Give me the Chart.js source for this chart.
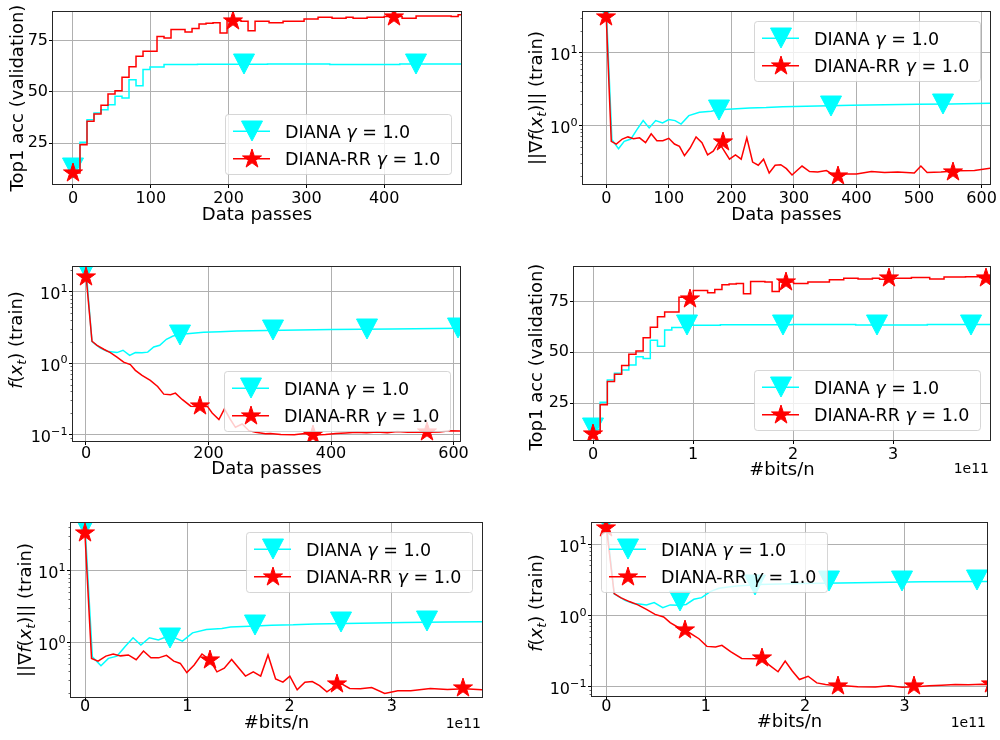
<!DOCTYPE html>
<html>
<head>
<meta charset="utf-8">
<script src="https://cdn.jsdelivr.net/npm/chart.js@4.4.1/dist/chart.umd.min.js"></script>
<style>
  html, body { margin: 0; padding: 0; background: #fff; }
  #wrap { position: relative; width: 1000px; height: 740px; overflow: hidden; background: #fff; }
  #wrap canvas { position: absolute; }
</style>
</head>
<body>
<div id="wrap"></div>
<script>
// ---- series (x in data passes) ----
const seriesNames = ['DIANA', 'DIANA-RR'];
const gammaValue = '1.0';

// top-1 validation accuracy, piecewise constant between evaluations
const accPassesDiana = [0, 9, 18, 27, 36, 45, 54, 63, 72, 81, 90, 99, 117, 160, 250, 330, 420, 500];
const accDiana = [12, 25.4, 36.4, 39.7, 41.3, 43.7, 47.8, 47, 55.9, 53, 60.9, 62.2, 63.3, 63.5, 63.6, 63.4, 63.6, 63.5];
const accPassesRR = [0, 9, 18, 27, 36, 45, 54, 63, 72, 81, 90, 108, 117, 126, 144, 153, 162, 171, 180, 189,
  198, 216, 225, 234, 252, 270, 297, 315, 333, 351, 360, 378, 400, 423, 441, 468, 486, 495, 500];
const accRR = [10.4, 24.2, 35.6, 39.2, 43.5, 49, 50.6, 57.1, 62.3, 67.4, 69.8, 77, 76.3, 80.4, 79.2, 80.9, 83.2, 83.5, 83.8, 78.8,
  84.8, 84.5, 79.9, 84.5, 83.8, 84.5, 85.6, 86.4, 86, 86.4, 85.9, 86.4, 86.8, 86, 87, 87.1, 86.8, 87.7, 87.7];

// gradient norm on the training set
const gradPassesDiana = [0, 9, 19.6, 28.7, 39.3, 49, 59, 68.6, 79, 90, 100, 110, 119.6, 132, 149, 168, 178.6, 202, 229, 255.6,
  282, 338, 392, 445, 498, 551, 614];
const gradDiana = [42, 0.63, 0.474, 0.60, 0.645, 0.87, 1.16, 0.92, 1.16, 1.08, 1.2, 1.16, 1.04, 1.36, 1.51, 1.56, 1.64, 1.68, 1.74, 1.76,
  1.81, 1.85, 1.89, 1.93, 1.95, 1.97, 2.01];
const gradPassesRR = [0, 8, 16, 25.6, 34.6, 43.6, 53.2, 62.8, 71.8, 80.9, 90.4, 100, 109, 117, 125, 134, 143.6, 153, 162, 171,
  180, 197, 206.6, 215.7, 224.7, 234, 243, 251.5, 260.5, 270, 279, 288, 297, 313, 325, 338, 352, 368, 384, 400,
  424, 445, 466, 492.5, 503, 513, 535, 562, 588.6, 614];
const gradRR = [31, 0.60, 0.55, 0.645, 0.69, 0.65, 0.67, 0.575, 0.76, 0.61, 0.61, 0.66, 0.55, 0.51, 0.38, 0.485, 0.69, 0.575, 0.39, 0.437,
  0.58, 0.34, 0.39, 0.34, 0.67, 0.31, 0.28, 0.34, 0.219, 0.28, 0.285, 0.251, 0.205, 0.273, 0.229, 0.226, 0.236, 0.195, 0.212, 0.212,
  0.229, 0.222, 0.226, 0.218, 0.273, 0.222, 0.226, 0.234, 0.236, 0.254];

// training loss
const lossPassesDiana = [0, 9.8, 23.5, 34.3, 44, 50.6, 60.4, 71.3, 80.6, 91.5, 100.8, 110.6, 120.4, 131.3, 142.2, 154, 165, 192, 219, 246.5,
  295.5, 400, 500, 614];
const lossDiana = [21, 2.0, 1.62, 1.46, 1.43, 1.40, 1.51, 1.28, 1.40, 1.39, 1.42, 1.68, 1.77, 2.15, 2.39, 2.5, 2.58, 2.7, 2.75, 2.8,
  2.85, 2.95, 3.0, 3.08];
const lossPassesRR = [0, 9.8, 18, 29, 39.8, 50.6, 61.5, 72.4, 80.6, 91.5, 105, 117, 127, 138, 146, 157, 171, 186, 198, 206,
  217, 226, 235, 244, 255, 266, 277, 293, 301, 318, 340, 357, 374, 391, 408, 424, 441, 458, 475, 492,
  508, 525, 542, 560, 577, 594, 614];
const lossRR = [17, 2.02, 1.77, 1.56, 1.40, 1.21, 1.03, 0.95, 0.79, 0.67, 0.57, 0.47, 0.367, 0.36, 0.379, 0.309, 0.249, 0.247, 0.249, 0.2,
  0.162, 0.228, 0.166, 0.126, 0.14, 0.113, 0.107, 0.102, 0.103, 0.1, 0.099, 0.103, 0.098, 0.1, 0.103, 0.105, 0.107, 0.106, 0.108, 0.106,
  0.11, 0.107, 0.108, 0.107, 0.108, 0.113, 0.112];

// communicated bits per node for one data pass
const BITS_PER_PASS = 7.96e8;

// marker positions [x, y] (every k-th iterate)
const accPassMarksDiana = [[0, 12.6], [220, 63.5], [441, 63.5]];
const accPassMarksRR = [[0, 10.4], [206, 84.4], [412, 86.6]];
const gradPassMarksDiana = [[0, 42], [180, 1.62], [360, 1.87], [539, 1.95]];
const gradPassMarksRR = [[0, 31], [186, 0.58], [370, 0.2], [554, 0.229]];
const lossPassMarksDiana = [[0, 21], [154, 2.45], [306, 2.88], [458, 3.0], [608, 3.05]];
const lossPassMarksRR = [[0, 16.1], [186, 0.247], [371, 0.098], [556, 0.108]];
const accBitMarksDiana = [[0, 12.7], [0.94e11, 63.5], [1.90e11, 63.5], [2.84e11, 63.5], [3.78e11, 63.5]];
const accBitMarksRR = [[0, 10], [0.967e11, 76.2], [1.934e11, 84.4], [2.957e11, 86.5], [3.93e11, 86.5]];
const gradBitMarksDiana = [[0, 42], [0.833e11, 1.14], [1.663e11, 1.74], [2.5e11, 1.94], [3.346e11, 2.0]];
const gradBitMarksRR = [[0, 33], [1.217e11, 0.566], [2.46e11, 0.267], [3.69e11, 0.235]];
const lossBitMarksDiana = [[0, 21], [0.744e11, 1.57], [1.5e11, 2.7], [2.236e11, 3.0], [2.975e11, 3.0], [3.73e11, 3.1]];
const lossBitMarksRR = [[0, 16.9], [0.795e11, 0.63], [1.566e11, 0.25], [2.327e11, 0.103], [3.1e11, 0.103], [3.875e11, 0.11]];

// ticks
const passTicks100 = [0, 100, 200, 300, 400];
const passTicks600 = [0, 100, 200, 300, 400, 500, 600];
const passTicks200 = [0, 200, 400, 600];
const bitTicks = [0, 1e11, 2e11, 3e11];
const accTicks = [25, 50, 75];
const gradTicks = [1, 10];
const lossTicks = [0.1, 1, 10];

// axis titles, as [text, style] pieces
const passTitle = 'Data passes';
const bitsTitle = '#bits/n';
const bitsOffset = '1e11';
const accTitle = [['Top1 acc (validation)', 'n']];
const gradTitle = [['||\u2207', 'n'], ['f', 'i'], ['(', 'n'], ['x', 'i'], ['t', 'sub'], [')|| (train)', 'n']];
const lossTitle = [['f', 'i'], ['(', 'n'], ['x', 'i'], ['t', 'sub'], [') (train)', 'n']];

const FONT = '"DejaVu Sans", sans-serif';
const CYAN = '#00ffff';
const RED = '#ff0000';
const TICK_SIZE = 16;
const LABEL_SIZE = 18;
const LEGEND_SIZE = 17.5;

const METRICS = {
  acc: { diana: [accPassesDiana, accDiana], rr: [accPassesRR, accRR], stepped: 'before', log: false, yTicks: accTicks, title: accTitle },
  grad: { diana: [gradPassesDiana, gradDiana], rr: [gradPassesRR, gradRR], stepped: false, log: true, yTicks: gradTicks, title: gradTitle },
  loss: { diana: [lossPassesDiana, lossDiana], rr: [lossPassesRR, lossRR], stepped: false, log: true, yTicks: lossTicks, title: lossTitle },
};

// canvas rect and plot rect are page pixels
const panels = [
  { canvas: [0, 0, 500, 247], area: [53, 12, 461, 184], metric: 'acc', bits: false, x: [-25.7, 498.7], y: [5, 89],
    xTicks: passTicks100, marks: [accPassMarksDiana, accPassMarksRR], legend: 'lower right',
    tickPad: 1, xTitleDy: 36, yTitleX: 23, yTitleCy: 98 },
  { canvas: [500, 0, 500, 247], area: [583, 12, 991, 184], metric: 'grad', bits: false, x: [-37.2, 613.5], y: [0.154, 36.9],
    xTicks: passTicks600, marks: [gradPassMarksDiana, gradPassMarksRR], legend: 'upper right',
    tickPad: 1, xTitleDy: 36, yTitleX: 542, yTitleCy: 98 },
  { canvas: [0, 247, 500, 247], area: [73, 267, 460, 441], metric: 'loss', bits: false, x: [-21.2, 610.6], y: [0.081, 22.1],
    xTicks: passTicks200, marks: [lossPassMarksDiana, lossPassMarksRR], legend: 'lower right',
    tickPad: -0.5, xTitleDy: 32.5, yTitleX: 22, yTitleCy: 340 },
  { canvas: [500, 247, 500, 247], area: [574, 267, 994, 440], metric: 'acc', bits: true, x: [-0.19e11, 3.97e11], y: [6.9, 91.9],
    xTicks: bitTicks, marks: [accBitMarksDiana, accBitMarksRR], legend: 'lower right',
    tickPad: 1.5, xTitleDy: 35, offsetDy: 33, yTitleX: 542, yTitleCy: 357 },
  { canvas: [0, 494, 500, 246], area: [71, 523, 482, 697], metric: 'grad', bits: true, x: [-0.137e11, 3.88e11], y: [0.174, 45.9],
    xTicks: bitTicks, marks: [gradBitMarksDiana, gradBitMarksRR], legend: 'upper right',
    tickPad: -4, xTitleDy: 30.5, offsetDy: 30.5, yTitleX: 31, yTitleCy: 610 },
  { canvas: [500, 494, 500, 246], area: [592, 523, 987, 696], metric: 'loss', bits: true, x: [-0.145e11, 3.83e11], y: [0.074, 19.7],
    xTicks: bitTicks, marks: [lossBitMarksDiana, lossBitMarksRR], legend: 'upper left',
    tickPad: -3, xTitleDy: 31, offsetDy: 30.5, yTitleX: 542, yTitleCy: 603 },
];

// filled marker sprites
function triangleDown(color) {
  const c = document.createElement('canvas');
  c.width = 24; c.height = 24;
  const g = c.getContext('2d');
  g.beginPath(); g.moveTo(1.5, 2); g.lineTo(22.5, 2); g.lineTo(12, 22); g.closePath();
  g.fillStyle = color; g.strokeStyle = color; g.lineWidth = 1;
  g.fill(); g.stroke();
  return c;
}
function star(color) {
  const c = document.createElement('canvas');
  c.width = 24; c.height = 24;
  const g = c.getContext('2d');
  const R = 10, r = R * 0.381966;
  g.beginPath();
  for (let i = 0; i < 10; i++) {
    const rad = i % 2 ? r : R;
    const ang = -Math.PI / 2 + i * Math.PI / 5;
    const px = 12 + rad * Math.cos(ang), py = 12 + rad * Math.sin(ang);
    if (i) g.lineTo(px, py); else g.moveTo(px, py);
  }
  g.closePath();
  g.fillStyle = color; g.strokeStyle = color; g.lineWidth = 1;
  g.fill(); g.stroke();
  return c;
}
const triImg = triangleDown(CYAN);
const starImg = star(RED);

function pieceFont(kind, size) {
  if (kind === 'i') return 'italic ' + size + 'px ' + FONT;
  if (kind === 'sub') return 'italic ' + (size * 0.7) + 'px ' + FONT;
  if (kind === 'sup') return (size * 0.7) + 'px ' + FONT;
  return size + 'px ' + FONT;
}
function richWidth(ctx, pieces, size) {
  return pieces.reduce((s, [t, k]) => { ctx.font = pieceFont(k, size); return s + ctx.measureText(t).width; }, 0);
}
function drawRich(ctx, pieces, x, y, size, align) {
  const total = richWidth(ctx, pieces, size);
  let cx = align === 'center' ? x - total / 2 : align === 'right' ? x - total : x;
  ctx.textAlign = 'left';
  ctx.textBaseline = 'alphabetic';
  pieces.forEach(([t, k]) => {
    ctx.font = pieceFont(k, size);
    const dy = k === 'sub' ? size * 0.22 : k === 'sup' ? -size * 0.45 : 0;
    ctx.fillText(t, cx, y + dy);
    cx += ctx.measureText(t).width;
  });
}

// 10 with a raised exponent, e.g. 10^-1
function decadePieces(v) {
  const e = Math.round(Math.log10(v));
  return [['10', 'n'], [(e < 0 ? '\u2212' : '') + Math.abs(e), 'sup']];
}

function roundBox(ctx, x, y, w, h, r) {
  ctx.beginPath();
  ctx.moveTo(x + r, y);
  ctx.arcTo(x + w, y, x + w, y + h, r);
  ctx.arcTo(x + w, y + h, x, y + h, r);
  ctx.arcTo(x, y + h, x, y, r);
  ctx.arcTo(x, y, x + w, y, r);
  ctx.closePath();
}

// keep marker sprites on whole pixels
const snapMarkers = {
  id: 'snapMarkers',
  afterDatasetsUpdate(chart) {
    chart.data.datasets.forEach((ds, i) => {
      if (ds.showLine !== false) return;
      chart.getDatasetMeta(i).data.forEach(pt => { pt.x = Math.round(pt.x); pt.y = Math.round(pt.y); });
    });
  }
};

// frame, log tick labels, minor log ticks, legend and axis titles
function decorations(p, m) {
  return {
    id: 'decorations',
    afterDatasetsDraw(chart) {
      const ctx = chart.ctx, a = chart.chartArea;
      const ox = p.canvas[0], oy = p.canvas[1];
      ctx.save();

      if (m.log) {
        const ys = chart.scales.y;
        ctx.strokeStyle = '#000'; ctx.lineWidth = 0.6;
        for (let d = Math.floor(Math.log10(p.y[0])); d <= Math.ceil(Math.log10(p.y[1])); d++) {
          for (let k = 2; k <= 9; k++) {
            const v = k * Math.pow(10, d);
            if (v < p.y[0] || v > p.y[1]) continue;
            const py = Math.round(ys.getPixelForValue(v)) + 0.5;
            ctx.beginPath(); ctx.moveTo(a.left - 2.5, py); ctx.lineTo(a.left, py); ctx.stroke();
          }
        }
        ctx.fillStyle = '#000';
        m.yTicks.forEach(v => {
          const py = ys.getPixelForValue(v);
          drawRich(ctx, decadePieces(v), a.left - 5.5, py + 7.5, TICK_SIZE, 'right');
        });
      }

      ctx.strokeStyle = '#262626'; ctx.lineWidth = 1;
      ctx.strokeRect(a.left - 0.5, a.top - 0.5, a.right - a.left + 1, a.bottom - a.top + 1);

      // legend
      const LW = 226, LH = 60, INSET = 9.5;
      const L = p.legend.includes('right') ? a.right - INSET - LW : a.left + INSET;
      const T = p.legend.includes('lower') ? a.bottom - INSET - LH : a.top + INSET;
      roundBox(ctx, L, T, LW, LH, 3);
      ctx.fillStyle = 'rgba(255,255,255,0.8)'; ctx.fill();
      ctx.strokeStyle = 'rgba(204,204,204,0.8)'; ctx.lineWidth = 1; ctx.stroke();
      [[CYAN, triImg, seriesNames[0]], [RED, starImg, seriesNames[1]]].forEach(([col, img, name], i) => {
        const ry = T + (i ? 44.3 : 16.7);
        ctx.strokeStyle = col; ctx.lineWidth = 1.5;
        ctx.beginPath(); ctx.moveTo(L + 7.5, ry); ctx.lineTo(L + 44.5, ry); ctx.stroke();
        ctx.drawImage(img, Math.round(L + 26 - img.width / 2), Math.round(ry - img.height / 2));
        ctx.fillStyle = '#000';
        drawRich(ctx, [[name + ' ', 'n'], ['\u03b3', 'i'], [' = ' + gammaValue, 'n']], L + 59.5, ry + 6.3, LEGEND_SIZE, 'left');
      });

      // axis titles
      ctx.fillStyle = '#000';
      drawRich(ctx, [[p.bits ? bitsTitle : passTitle, 'n']], (a.left + a.right) / 2, a.bottom + p.xTitleDy, LABEL_SIZE, 'center');
      if (p.bits) {
        ctx.font = '14px ' + FONT;
        ctx.textAlign = 'right';
        ctx.fillText(bitsOffset, a.right - 1, a.bottom + p.offsetDy);
      }
      ctx.save();
      ctx.translate(p.yTitleX - ox, p.yTitleCy - oy);
      ctx.rotate(-Math.PI / 2);
      drawRich(ctx, m.title, 0, 0, LABEL_SIZE, 'center');
      ctx.restore();

      ctx.restore();
    }
  };
}

const wrap = document.getElementById('wrap');

panels.forEach(p => {
  const [cx, cy, cw, ch] = p.canvas;
  const [al, at, ar, ab] = p.area;
  const m = METRICS[p.metric];
  const cv = document.createElement('canvas');
  cv.width = cw; cv.height = ch;
  cv.style.left = cx + 'px'; cv.style.top = cy + 'px';
  wrap.appendChild(cv);

  const k = p.bits ? BITS_PER_PASS : 1;
  const curve = ([xs, ys]) => xs.map((x, i) => ({ x: x * k, y: ys[i] }));
  const points = arr => arr.map(([x, y]) => ({ x, y }));

  const lineSet = (src, color, order) => ({
    data: curve(src), borderColor: color, borderWidth: 1.5, pointRadius: 0,
    stepped: m.stepped, tension: 0, fill: false, order, clip: 0
  });
  const markSet = (src, img, order) => ({
    data: points(src), showLine: false, pointStyle: img, pointRadius: 10, pointBorderWidth: 0,
    pointHoverRadius: 10, order, clip: 0
  });

  const grid = { color: '#b0b0b0', lineWidth: 1, tickLength: 4, tickColor: '#000', tickWidth: 1 };
  const tickFont = { family: 'DejaVu Sans', size: TICK_SIZE };

  new Chart(cv, {
    type: 'line',
    data: {
      datasets: [
        lineSet(m.diana, CYAN, 3),
        markSet(p.marks[0], triImg, 2),
        lineSet(m.rr, RED, 1),
        markSet(p.marks[1], starImg, 0),
      ]
    },
    options: {
      responsive: false,
      animation: false,
      devicePixelRatio: 1,
      events: [],
      layout: { padding: { left: 0, top: at - cy, right: cx + cw - ar, bottom: 0 } },
      plugins: { legend: { display: false }, tooltip: { enabled: false } },
      scales: {
        x: {
          type: 'linear', min: p.x[0], max: p.x[1],
          afterBuildTicks: s => { s.ticks = p.xTicks.map(v => ({ value: v })); },
          afterFit: s => { s.height = cy + ch - ab; s.paddingLeft = 0; s.paddingRight = 0; },
          ticks: {
            autoSkip: false, maxRotation: 0, color: '#000', font: tickFont, padding: p.tickPad,
            callback: v => p.bits ? String(Math.round(v / 1e11)) : String(v)
          },
          grid, border: { display: false }
        },
        y: {
          type: m.log ? 'logarithmic' : 'linear', min: p.y[0], max: p.y[1],
          afterBuildTicks: s => { s.ticks = m.yTicks.map(v => ({ value: v })); },
          afterFit: s => { s.width = al - cx; s.paddingTop = 0; s.paddingBottom = 0; },
          ticks: {
            autoSkip: false, color: '#000', font: tickFont, padding: 1,
            // decade labels on log axes are drawn with raised exponents by the plugin
            callback: v => m.log ? '' : String(v)
          },
          grid, border: { display: false }
        }
      }
    },
    plugins: [snapMarkers, decorations(p, m)]
  });
});
</script>
</body>
</html>
